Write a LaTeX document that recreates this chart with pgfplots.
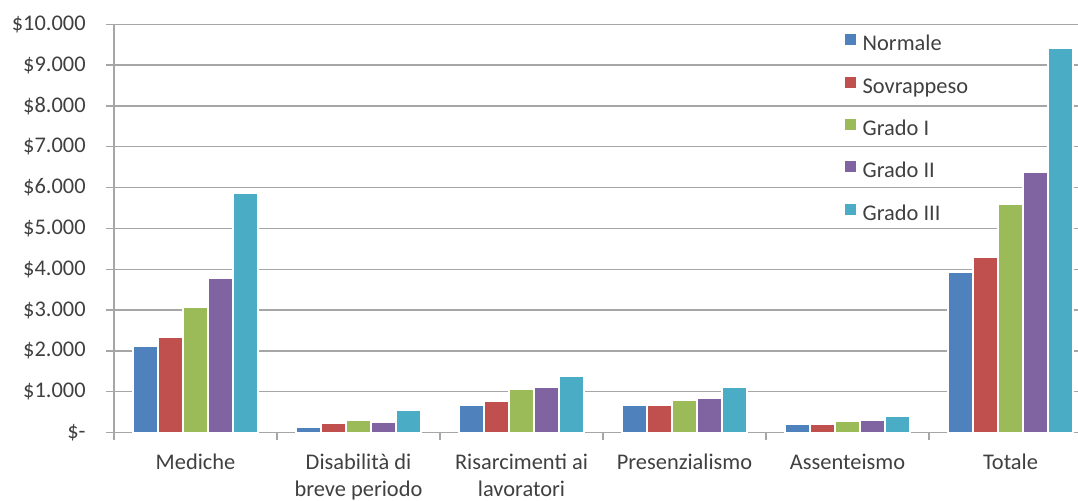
\documentclass[border=0pt]{standalone}
\usepackage{fontspec}
\setmainfont{Carlito}
\usepackage{pgfplots}
\usepackage{pgfplotstable}
\pgfplotsset{compat=1.18}

\definecolor{cNormale}{HTML}{4F81BD}
\definecolor{cSovrappeso}{HTML}{C0504D}
\definecolor{cGradoI}{HTML}{9BBB59}
\definecolor{cGradoII}{HTML}{8064A2}
\definecolor{cGradoIII}{HTML}{4BACC6}
\definecolor{gridgray}{HTML}{A6A6A6}
\definecolor{txtgray}{HTML}{404040}

% Costi annui per dipendente, per categoria di costo e classe di peso
\pgfplotstableread{
x normale sovrappeso gradoI gradoII gradoIII
0 2110 2330 3080 3780 5870
1 135  225  300  257  544
2 680  770  1075 1115 1395
3 680  680  805  837  1108
4 214  214  278  303  394
5 3940 4306 5605 6373 9430
}\costdata

\pgfplotsset{
  sqlegend/.style={legend image code/.code={\fill[##1, draw=none] (0pt,0pt) rectangle (5.5pt,5.5pt);}},
}

\begin{document}
\fontsize{11.2}{13.5}\selectfont
\color{txtgray}
\begin{tikzpicture}
\useasboundingbox (0,0) rectangle (539pt,250pt);
\begin{axis}[
  at={(57pt,33.75pt)}, anchor=south west,
  scale only axis, width=482pt, height=204.1pt,
  xmin=-0.5, xmax=5.414, ymin=0, ymax=10000,
  ybar=0pt, bar width=12.5pt,
  axis x line=bottom, axis y line=left,
  axis line style={-, draw=gridgray, line width=0.7pt},
  ymajorgrids, grid style={draw=gridgray, line width=0.7pt},
  tick align=outside, major tick length=3.75pt,
  tick style={draw=gridgray, line width=0.7pt},
  scaled y ticks=false,
  ytick={0,1000,...,10000},
  yticklabels={\$-,\$1.000,\$2.000,\$3.000,\$4.000,\$5.000,\$6.000,\$7.000,\$8.000,\$9.000,\$10.000},
  yticklabel style={anchor=east, inner sep=0pt, xshift=-10.25pt, text=txtgray},
  xtick={-0.5,0.5,...,4.5},
  xticklabels={Mediche, Disabilità di\\breve periodo, Risarcimenti ai\\lavoratori, Presenzialismo, Assenteismo, Totale},
  xticklabel style={align=center, anchor=north, inner sep=0pt, xshift=40.75pt, yshift=-7pt, text=txtgray},
  /pgf/number format/assume math mode=true,
  legend cell align=left,
  legend style={at={(0.758,1)}, anchor=north west, yshift=-5pt,
    draw=none, fill=none, inner sep=0pt, outer sep=0pt,
    row sep=10.4pt, column sep=3.5pt, text=txtgray,
    nodes={inner sep=0pt, text height=8pt, text depth=2.5pt}},
  every axis plot/.append style={draw=white, line width=1pt, sqlegend},
]
\addplot[fill=cNormale] table[x=x, y=normale] {\costdata};
\addplot[fill=cSovrappeso] table[x=x, y=sovrappeso] {\costdata};
\addplot[fill=cGradoI] table[x=x, y=gradoI] {\costdata};
\addplot[fill=cGradoII] table[x=x, y=gradoII] {\costdata};
\addplot[fill=cGradoIII] table[x=x, y=gradoIII] {\costdata};
\legend{Normale, Sovrappeso, Grado I, Grado II, Grado III}
\end{axis}
\end{tikzpicture}
\end{document}
